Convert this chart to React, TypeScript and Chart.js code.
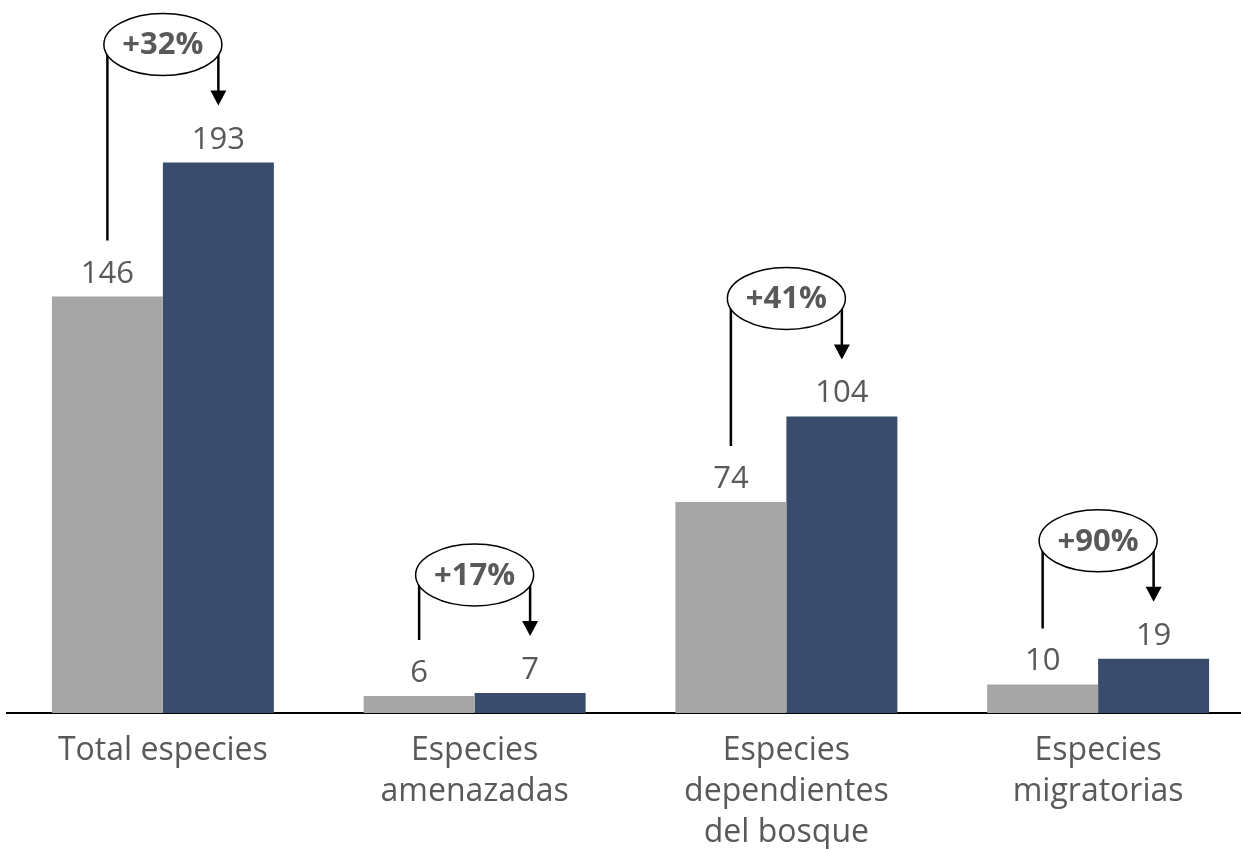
import React, { useEffect, useRef } from "react";
import { Chart, registerables } from "chart.js";

Chart.register(...registerables);

const categories: string[][] = [
  ["Total especies"],
  ["Especies", "amenazadas"],
  ["Especies", "dependientes", "del bosque"],
  ["Especies", "migratorias"],
];
const seriesBefore = [146, 6, 74, 10];
const seriesAfter = [193, 7, 104, 19];
const changeLabels = ["+32%", "+17%", "+41%", "+90%"];

const GREY = "#a6a6a6";
const BLUE = "#394c6c";
const TEXT = "#595959";
const FONT = "'Open Sans'";

const overlayPlugin = {
  id: "overlay",
  afterDatasetsDraw(chart: any) {
    const ctx = chart.ctx as CanvasRenderingContext2D;
    const m0 = chart.getDatasetMeta(0);
    const m1 = chart.getDatasetMeta(1);
    ctx.save();
    // value labels
    ctx.fillStyle = TEXT;
    ctx.font = `31px ${FONT}`;
    ctx.textAlign = "center";
    ctx.textBaseline = "alphabetic";
    [m0, m1].forEach((meta, di) => {
      const vals = di === 0 ? seriesBefore : seriesAfter;
      meta.data.forEach((bar: any, i: number) => {
        ctx.fillText(String(vals[i]), bar.x, bar.y - 14);
      });
    });
    // annotations
    for (let i = 0; i < changeLabels.length; i++) {
      const g = m0.data[i] as any;
      const b = m1.data[i] as any;
      const cx = (g.x + b.x) / 2;
      const cy = b.y - 118;
      const lx = g.x;
      const rx = b.x;
      const leftBottom = g.y - 56;
      const tipY = b.y - 57;
      ctx.strokeStyle = "#000";
      ctx.fillStyle = "#000";
      ctx.lineWidth = 2.5;
      ctx.beginPath();
      ctx.moveTo(lx, cy);
      ctx.lineTo(lx, leftBottom);
      ctx.moveTo(rx, cy);
      ctx.lineTo(rx, tipY - 14);
      ctx.stroke();
      ctx.beginPath();
      ctx.moveTo(rx - 8, tipY - 15);
      ctx.lineTo(rx + 8, tipY - 15);
      ctx.lineTo(rx, tipY);
      ctx.closePath();
      ctx.fill();
      // ellipse
      ctx.beginPath();
      ctx.ellipse(cx, cy, 59, 31, 0, 0, Math.PI * 2);
      ctx.fillStyle = "#fff";
      ctx.fill();
      ctx.lineWidth = 1.5;
      ctx.strokeStyle = "#000";
      ctx.stroke();
      ctx.fillStyle = TEXT;
      ctx.font = `bold 31px ${FONT}`;
      ctx.textBaseline = "middle";
      ctx.fillText(changeLabels[i], cx, cy + 1);
      ctx.textBaseline = "alphabetic";
    }
    ctx.restore();
  },
};

export default function App() {
  const ref = useRef<HTMLCanvasElement | null>(null);
  useEffect(() => {
    if (!ref.current) return;
    const chart = new Chart(ref.current, {
      type: "bar",
      data: {
        labels: categories,
        datasets: [
          { data: seriesBefore, backgroundColor: GREY, categoryPercentage: 0.712, barPercentage: 1 },
          { data: seriesAfter, backgroundColor: BLUE, categoryPercentage: 0.712, barPercentage: 1 },
        ],
      },
      options: {
        animation: false,
        responsive: true,
        maintainAspectRatio: false,
        layout: { padding: { left: 7, right: 2, top: 0, bottom: 0 } },
        plugins: { legend: { display: false }, tooltip: { enabled: false } },
        scales: {
          x: {
            grid: { display: false, drawTicks: false },
            border: { display: true, color: "#000", width: 2 },
            ticks: {
              color: TEXT,
              padding: 18,
              font: { family: "'Open Sans'", size: 32, lineHeight: 1.27 },
              maxRotation: 0,
              autoSkip: false,
            },
            afterFit: (scale: any) => {
              scale.height = 136;
            },
          },
          y: { display: false, min: 0, max: 250 },
        },
      },
      plugins: [overlayPlugin],
    });
    return () => chart.destroy();
  }, []);
  return (
    <div style={{ position: "fixed", left: 0, top: 0, width: 1241, height: 849, overflow: "hidden", background: "#fff" }}>
      <div style={{ width: 1256, height: 849 }}>
        <canvas ref={ref} />
      </div>
    </div>
  );
}
